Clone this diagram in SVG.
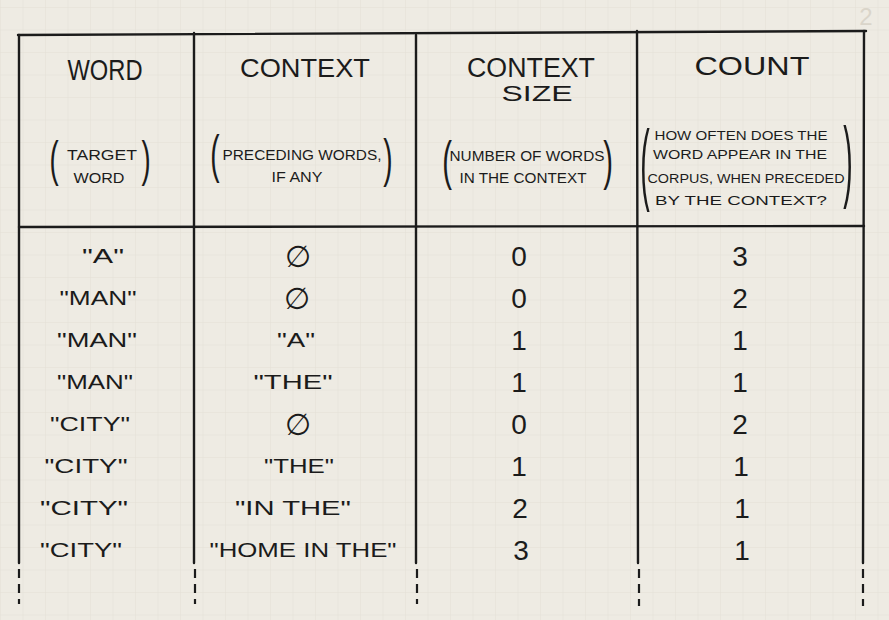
<svg xmlns="http://www.w3.org/2000/svg" width="889" height="620" viewBox="0 0 889 620">
  <defs>
    <pattern id="grid" x="1" y="8" width="22.5" height="22.5" patternUnits="userSpaceOnUse">
      <path d="M22.5 0 V22.5 M0 22.5 H22.5" fill="none" stroke="#e3dfd6" stroke-width="1"/>
    </pattern>
    <style>
      .ink { stroke: #1b1b1b; stroke-width: 2.4; stroke-linecap: round; fill: none; }
      .dash { stroke: #1b1b1b; stroke-width: 2.2; fill: none; stroke-dasharray: 9 6; }
      text { font-family: "Liberation Sans", "DejaVu Sans", sans-serif; fill: #1b1b1b; text-anchor: middle; }
      .h { font-size: 26px; }
      .sub { font-size: 14px; }
      .sub4 { font-size: 12.5px; }
      .w { font-size: 20px; }
      .num { font-size: 28px; }
      .empty { font-family: "DejaVu Sans", sans-serif; font-size: 30px; }
      .paren { font-family: "Liberation Sans", sans-serif; }
    </style>
  </defs>

  <rect width="889" height="620" fill="#eeebe3"/>
  <rect width="889" height="620" fill="url(#grid)"/>
  <text x="866" y="25" style="font-size:24px;fill:#dad5ca;">2</text>

  <g id="connectors">
    <path class="ink" d="M18 35 L866 31"/>
    <path class="ink" d="M19 227 L864 226"/>
    <path class="ink" d="M19 35 L19 563"/>
    <path class="ink" d="M194 33 L194 563"/>
    <path class="ink" d="M416 35 L416 563"/>
    <path class="ink" d="M637 31 L638 563"/>
    <path class="ink" d="M864 31 L863 563"/>
    <path class="dash" d="M19 569 V604"/>
    <path class="dash" d="M195 569 V604"/>
    <path class="dash" d="M417 569 V604"/>
    <path class="dash" d="M639 569 V606"/>
    <path class="dash" d="M863 569 V606"/>
  </g>

  <g id="header-word">
    <text class="h" x="105" y="80" style="font-size:30px" textLength="75" lengthAdjust="spacingAndGlyphs">WORD</text>
    <text class="paren" transform="translate(54,176) scale(0.55,1)" style="font-size:50px">(</text>
    <text class="sub" x="102" y="160" textLength="70" lengthAdjust="spacingAndGlyphs">TARGET</text>
    <text class="sub" x="99" y="183" textLength="51" lengthAdjust="spacingAndGlyphs">WORD</text>
    <text class="paren" transform="translate(146,176) scale(0.55,1)" style="font-size:50px">)</text>
  </g>

  <g id="header-context">
    <text class="h" x="305" y="77" textLength="130" lengthAdjust="spacingAndGlyphs">CONTEXT</text>
    <text class="paren" transform="translate(215,172) scale(0.55,1)" style="font-size:51px">(</text>
    <text class="sub" x="302" y="160" textLength="159" lengthAdjust="spacingAndGlyphs">PRECEDING WORDS,</text>
    <text class="sub" x="297" y="182" textLength="51" lengthAdjust="spacingAndGlyphs">IF ANY</text>
    <text class="paren" transform="translate(388,176) scale(0.55,1)" style="font-size:51px">)</text>
  </g>

  <g id="header-context-size">
    <text class="h" x="531" y="77" style="font-size:27px" textLength="128" lengthAdjust="spacingAndGlyphs">CONTEXT</text>
    <text class="h" x="537" y="101" style="font-size:22px" textLength="71" lengthAdjust="spacingAndGlyphs">SIZE</text>
    <text class="paren" transform="translate(447,179) scale(0.55,1)" style="font-size:53px">(</text>
    <text class="sub" x="527" y="161" textLength="155" lengthAdjust="spacingAndGlyphs">NUMBER OF WORDS</text>
    <text class="sub" x="523" y="183" textLength="127" lengthAdjust="spacingAndGlyphs">IN THE CONTEXT</text>
    <text class="paren" transform="translate(608,179) scale(0.55,1)" style="font-size:53px">)</text>
  </g>

  <g id="header-count">
    <text class="h" x="752" y="75" style="font-size:25px" textLength="115" lengthAdjust="spacingAndGlyphs">COUNT</text>
    <text class="paren" transform="translate(645,193) scale(0.32,1)" style="font-size:89px">(</text>
    <text class="sub4" x="741" y="140" textLength="173" lengthAdjust="spacingAndGlyphs">HOW OFTEN DOES THE</text>
    <text class="sub4" x="740" y="159" textLength="174" lengthAdjust="spacingAndGlyphs">WORD APPEAR IN THE</text>
    <text class="sub4" x="746" y="183" textLength="197" lengthAdjust="spacingAndGlyphs">CORPUS, WHEN PRECEDED</text>
    <text class="sub4" x="741" y="205" textLength="172" lengthAdjust="spacingAndGlyphs">BY THE CONTEXT?</text>
    <text class="paren" transform="translate(848,190) scale(0.32,1)" style="font-size:89px">)</text>
  </g>

  <g id="row-1">
    <text class="w" x="103" y="263" textLength="42" lengthAdjust="spacingAndGlyphs">"A"</text>
    <text class="empty" x="298" y="267">∅</text>
    <text class="num" x="519" y="266">0</text>
    <text class="num" x="740" y="266">3</text>
  </g>
  <g id="row-2">
    <text class="w" x="98" y="305" textLength="77" lengthAdjust="spacingAndGlyphs">"MAN"</text>
    <text class="empty" x="297" y="309">∅</text>
    <text class="num" x="519" y="308">0</text>
    <text class="num" x="740" y="308">2</text>
  </g>
  <g id="row-3">
    <text class="w" x="97" y="347" textLength="80" lengthAdjust="spacingAndGlyphs">"MAN"</text>
    <text class="w" x="296" y="347" textLength="38" lengthAdjust="spacingAndGlyphs">"A"</text>
    <text class="num" x="519" y="350">1</text>
    <text class="num" x="740" y="350">1</text>
  </g>
  <g id="row-4">
    <text class="w" x="95" y="389" textLength="76" lengthAdjust="spacingAndGlyphs">"MAN"</text>
    <text class="w" x="293" y="389" textLength="79" lengthAdjust="spacingAndGlyphs">"THE"</text>
    <text class="num" x="519" y="392">1</text>
    <text class="num" x="740" y="392">1</text>
  </g>
  <g id="row-5">
    <text class="w" x="90" y="431" textLength="80" lengthAdjust="spacingAndGlyphs">"CITY"</text>
    <text class="empty" x="298" y="435">∅</text>
    <text class="num" x="519" y="434">0</text>
    <text class="num" x="740" y="434">2</text>
  </g>
  <g id="row-6">
    <text class="w" x="86" y="473" textLength="83" lengthAdjust="spacingAndGlyphs">"CITY"</text>
    <text class="w" x="299" y="473" textLength="70" lengthAdjust="spacingAndGlyphs">"THE"</text>
    <text class="num" x="519" y="476">1</text>
    <text class="num" x="741" y="476">1</text>
  </g>
  <g id="row-7">
    <text class="w" x="84" y="515" textLength="88" lengthAdjust="spacingAndGlyphs">"CITY"</text>
    <text class="w" x="293" y="515" textLength="116" lengthAdjust="spacingAndGlyphs">"IN THE"</text>
    <text class="num" x="520" y="518">2</text>
    <text class="num" x="742" y="518">1</text>
  </g>
  <g id="row-8">
    <text class="w" x="81" y="557" textLength="82" lengthAdjust="spacingAndGlyphs">"CITY"</text>
    <text class="w" x="303" y="557" textLength="187" lengthAdjust="spacingAndGlyphs">"HOME IN THE"</text>
    <text class="num" x="521" y="560">3</text>
    <text class="num" x="742" y="560">1</text>
  </g>
</svg>
